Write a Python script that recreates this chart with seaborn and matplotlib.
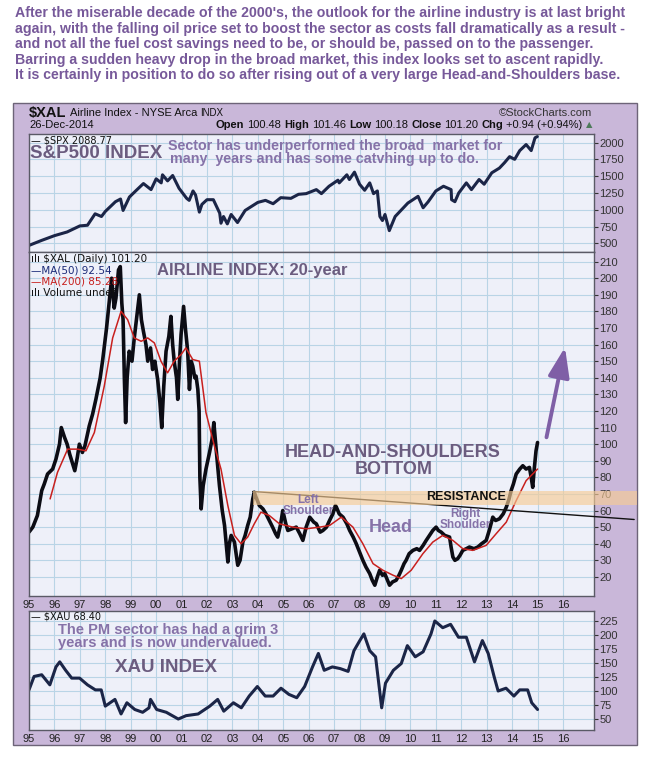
'''
Airline index ($XAL) 20-year chart with the S&P500 on top
and the XAU gold and silver index below, StockCharts style.
'''
# import libraries
import matplotlib
matplotlib.use('Agg')
import matplotlib.pyplot as plt
from matplotlib.patches import Rectangle, FancyArrowPatch
import seaborn as sns

# figure size in pixels
W, H = 649, 757

# S&P500 daily close
SPX_YEAR = [1995.0, 1995.5, 1996.0, 1996.5, 1997.0, 1997.3, 1997.6, 1997.85,
            1998.0, 1998.4, 1998.6, 1998.7, 1998.95, 1999.25, 1999.5, 1999.8,
            2000.0, 2000.2, 2000.25, 2000.45, 2000.65, 2000.9, 2001.2, 2001.3,
            2001.45, 2001.55, 2001.7, 2001.8, 2002.0, 2002.25, 2002.5, 2002.55,
            2002.65, 2002.8, 2002.95, 2003.2, 2003.5, 2004.0, 2004.3, 2004.6,
            2004.9, 2005.3, 2005.6, 2005.9, 2006.3, 2006.5, 2006.8, 2007.15,
            2007.2, 2007.5, 2007.6, 2007.8, 2008.0, 2008.2, 2008.4, 2008.55,
            2008.7, 2008.8, 2008.9, 2009.0, 2009.17, 2009.4, 2009.6, 2009.9,
            2010.3, 2010.5, 2010.7, 2011.0, 2011.3, 2011.6, 2011.62, 2011.75,
            2011.9, 2012.2, 2012.4, 2012.7, 2012.9, 2013.2, 2013.5, 2013.7,
            2013.9, 2014.1, 2014.3, 2014.55, 2014.75, 2014.9, 2014.99]
SPX_VALUE = [470, 545, 615, 670, 760, 770, 940, 900,
             975, 1120, 1160, 990, 1190, 1300, 1390, 1300,
             1460, 1400, 1520, 1430, 1510, 1320, 1170, 1140,
             1280, 1220, 965, 1080, 1150, 1150, 950, 800,
             900, 790, 930, 810, 990, 1110, 1140, 1090,
             1180, 1170, 1230, 1240, 1300, 1240, 1350, 1440,
             1400, 1520, 1450, 1560, 1380, 1290, 1400, 1240,
             1280, 900, 840, 930, 690, 900, 980, 1100,
             1200, 1030, 1120, 1280, 1350, 1300, 1150, 1120,
             1250, 1400, 1300, 1450, 1380, 1550, 1620, 1700,
             1790, 1750, 1880, 1970, 1880, 2070, 2089]

# $XAL daily close
XAL_YEAR = [1995.0, 1995.15, 1995.33, 1995.5, 1995.6, 1995.73, 1995.93, 1996.06,
            1996.2, 1996.27, 1996.4, 1996.5, 1996.6, 1996.72, 1996.8, 1996.9,
            1996.98, 1997.1, 1997.2, 1997.37, 1997.5, 1997.63, 1997.8, 1997.9,
            1998.05, 1998.15, 1998.25, 1998.35, 1998.42, 1998.52, 1998.59, 1998.65,
            1998.7, 1998.75, 1998.8, 1998.86, 1998.94, 1999.05, 1999.14, 1999.25,
            1999.34, 1999.42, 1999.5, 1999.6, 1999.67, 1999.78, 1999.86, 1999.95,
            2000.06, 2000.15, 2000.22, 2000.3, 2000.39, 2000.5, 2000.58, 2000.65,
            2000.71, 2000.8, 2000.85, 2000.92, 2000.98, 2001.08, 2001.15, 2001.24,
            2001.31, 2001.38, 2001.44, 2001.52, 2001.57, 2001.64, 2001.69, 2001.72,
            2001.77, 2001.85, 2001.96, 2002.1, 2002.2, 2002.27, 2002.36, 2002.49,
            2002.6, 2002.69, 2002.82, 2002.88, 2002.95, 2003.08, 2003.21, 2003.3,
            2003.41, 2003.5, 2003.6, 2003.7, 2003.8, 2003.86, 2003.93, 2004.06,
            2004.2, 2004.32, 2004.45, 2004.58, 2004.7, 2004.78, 2004.9, 2004.98,
            2005.1, 2005.18, 2005.35, 2005.51, 2005.65, 2005.77, 2005.9, 2006.04,
            2006.2, 2006.3, 2006.45, 2006.56, 2006.7, 2006.82, 2006.95, 2007.05,
            2007.09, 2007.2, 2007.35, 2007.5, 2007.61, 2007.75, 2007.87, 2008.0,
            2008.13, 2008.25, 2008.4, 2008.5, 2008.6, 2008.7, 2008.79, 2008.9,
            2008.99, 2009.1, 2009.18, 2009.3, 2009.44, 2009.55, 2009.64, 2009.75,
            2009.83, 2009.95, 2010.1, 2010.25, 2010.36, 2010.5, 2010.62, 2010.75,
            2010.88, 2011.01, 2011.1, 2011.21, 2011.35, 2011.54, 2011.6, 2011.67,
            2011.75, 2011.86, 2011.95, 2012.06, 2012.2, 2012.32, 2012.5, 2012.65,
            2012.8, 2012.98, 2013.1, 2013.24, 2013.35, 2013.5, 2013.65, 2013.77,
            2013.88, 2013.96, 2014.05, 2014.16, 2014.3, 2014.42, 2014.55, 2014.68,
            2014.75, 2014.81, 2014.87, 2014.94, 2015.0]
XAL_VALUE = [47, 50, 57, 72, 76, 82, 85, 91,
             100, 110, 104, 100, 94, 88, 84, 92,
             100, 95, 99, 111, 118, 127, 140, 151,
             170, 185, 200, 182, 188, 205, 207, 185,
             175, 140, 113, 140, 156, 150, 164, 178,
             190, 175, 168, 160, 150, 158, 145, 150,
             139, 125, 110, 135, 156, 165, 177, 160,
             150, 140, 127, 150, 166, 183, 170, 156,
             133, 150, 147, 140, 141, 133, 120, 80,
             61, 75, 85, 95, 103, 113, 97, 75,
             60, 51, 29, 40, 45, 41, 27, 30,
             41, 45, 51, 56, 67, 71, 68, 63,
             61, 58, 54, 50, 46, 44, 52, 60,
             52, 48, 49, 50, 46, 42, 50, 56,
             53, 52, 47, 48, 50, 54, 58, 63,
             62, 58, 56, 52, 48, 44, 40, 35,
             30, 26, 22, 18, 15, 20, 24, 21,
             22, 18, 15, 17, 18, 21, 24, 28,
             30, 34, 36, 37, 36, 39, 42, 45,
             48, 50, 48, 47, 45, 44, 38, 32,
             30, 31, 33, 36, 37, 38, 37, 38,
             40, 42, 48, 56, 54, 55, 58, 62,
             67, 72, 76, 82, 85, 87, 85, 86,
             80, 74, 85, 96, 101]

# $XAL 200-day moving average (red line)
MA200_YEAR = [1995.83, 1996.12, 1996.52, 1996.9, 1997.24, 1997.57, 1997.96,
              1998.29, 1998.62, 1998.88, 1999.14, 1999.41, 1999.67, 1999.93,
              2000.19, 2000.45, 2000.71, 2000.98, 2001.17, 2001.44, 2001.7,
              2001.96, 2002.29, 2002.55, 2002.82, 2003.08, 2003.34, 2003.6,
              2003.86, 2004.12, 2004.45, 2004.85, 2005.38, 2005.9, 2006.43,
              2006.82, 2007.28, 2007.74, 2008.13, 2008.53, 2008.92, 2009.32,
              2009.64, 2010.03, 2010.49, 2010.88, 2011.27, 2011.67, 2012.06,
              2012.45, 2012.98, 2013.37, 2013.77, 2014.16, 2014.55, 2015.0]
MA200_VALUE = [67, 83, 97, 97, 96, 107, 135,
               164, 180, 175, 164, 162, 164, 161,
               150, 143, 150, 154, 158, 151, 150,
               119, 99, 85, 63, 45, 40, 44,
               52, 59, 57, 52, 50, 49, 50,
               51, 56, 50, 40, 28, 24, 21,
               19, 24, 34, 41, 45, 42, 37,
               36, 39, 46, 53, 66, 78, 85]

# $XAU daily close
XAU_YEAR = [1995.0, 1995.2, 1995.5, 1995.82, 1996.06, 1996.21, 1996.44, 1996.68,
            1996.99, 1997.3, 1997.61, 1997.84, 1998.0, 1998.38, 1998.62, 1998.85,
            1999.16, 1999.47, 1999.72, 1999.78, 2000.02, 2000.4, 2000.87, 2001.18,
            2001.65, 2002.11, 2002.42, 2002.66, 2003.04, 2003.35, 2003.66, 2003.98,
            2004.29, 2004.6, 2004.91, 2005.22, 2005.53, 2005.84, 2006.15, 2006.38,
            2006.61, 2006.93, 2007.24, 2007.55, 2007.78, 2008.01, 2008.17, 2008.4,
            2008.63, 2008.87, 2009.02, 2009.33, 2009.64, 2009.88, 2010.19, 2010.5,
            2010.81, 2010.96, 2011.27, 2011.58, 2011.89, 2012.2, 2012.52, 2012.83,
            2013.06, 2013.29, 2013.45, 2013.76, 2014.07, 2014.3, 2014.61, 2014.77,
            2015.0]
XAU_VALUE = [102, 126, 129, 111, 143, 152, 137, 123,
             123, 111, 102, 102, 73, 85, 59, 79,
             67, 62, 70, 85, 67, 62, 50, 56,
             59, 73, 85, 64, 79, 70, 91, 108,
             91, 91, 105, 94, 88, 108, 143, 167,
             137, 143, 140, 135, 172, 190, 202, 172,
             161, 70, 114, 137, 149, 181, 161, 170,
             202, 225, 213, 219, 196, 196, 152, 190,
             167, 126, 100, 105, 91, 102, 102, 79,
             67]

# axis ticks and labels
YEAR_TICKS = [1995, 1996, 1997, 1998, 1999, 2000, 2001, 2002, 2003, 2004, 2005,
              2006, 2007, 2008, 2009, 2010, 2011, 2012, 2013, 2014, 2015, 2016]
YEAR_LABELS = ['95', '96', '97', '98', '99', '00', '01', '02', '03', '04', '05',
               '06', '07', '08', '09', '10', '11', '12', '13', '14', '15', '16']
SPX_TICKS = [500, 750, 1000, 1250, 1500, 1750, 2000]
XAL_TICKS = [20, 30, 40, 50, 60, 70, 80, 90, 100, 110, 120, 130, 140, 150,
             160, 170, 180, 190, 200, 210]
XAU_TICKS = [50, 75, 100, 125, 150, 175, 200, 225]

# head-and-shoulders markup
RESISTANCE_LOW, RESISTANCE_HIGH = 63.3, 71.7
NECKLINE_YEAR = [2003.8, 2018.8]
NECKLINE_VALUE = [71.5, 54.6]
ARROW_START = (2015.33, 102.5)
ARROW_END = (2016.1, 160)

# colours
FRAME_BG = '#c9b7d9'
PLOT_BG = '#eef0f9'
GRID = '#b9d4e6'
NAVY = '#1b2547'
RED = '#c8201e'
HEAD_PURPLE = '#77599a'
NOTE_PURPLE = '#8672a8'
TITLE_GREY = '#6b5c7f'

HEADER_LINES = [
    "After the miserable decade of the 2000's, the outlook for the airline industry is at last bright",
    "again, with the falling oil price set to boost the sector as costs fall dramatically as a result -",
    "and not all the fuel cost savings need to be, or should be, passed on to the passenger.",
    "Barring a sudden heavy drop in the broad market, this index looks set to ascent rapidly.",
    "It is certainly in position to do so after rising out of a very large Head-and-Shoulders base.",
]


def fig_text(fig, x, y, s, **kwargs):
    '''
    Place text on the figure using pixel coordinates measured from the top left
    '''
    return fig.text(x / W, 1 - y / H, s, **kwargs)


def panel(fig, top, bottom):
    '''
    Add a chart panel between two pixel rows and style it like StockCharts
    '''
    left, right = 29, 594
    ax = fig.add_axes([left / W, 1 - bottom / H, (right - left) / W,
                       (bottom - top) / H])
    ax.set_facecolor(PLOT_BG)
    ax.set_xlim(1995.0, 2017.22)
    ax.set_xticks(YEAR_TICKS)
    ax.grid(True, color=GRID, linewidth=0.8)
    ax.set_axisbelow(True)
    ax.yaxis.tick_right()
    ax.tick_params(axis='y', direction='out', length=3, width=0.8,
                   colors='#333333', labelsize=8, pad=1)
    ax.tick_params(axis='x', length=0, labelsize=8, colors='#222222', pad=3)
    for spine in ax.spines.values():
        spine.set_color('#5a5a66')
        spine.set_linewidth(1)
    return ax


def draw_segments(fig, segments, x, y, align='left'):
    '''
    Draw a row of text pieces with different weights one after the other
    '''
    renderer = fig.canvas.get_renderer()
    items = []
    total = 0
    for text, kwargs in segments:
        item = fig_text(fig, 0, y, text, va='center', **kwargs)
        width = item.get_window_extent(renderer).width
        items.append((item, width))
        total += width + 3
    total -= 3
    cursor = x - total if align == 'right' else x
    for item, width in items:
        item.set_x(cursor / W)
        cursor += width + 3


def draw_chart():
    '''
    Build the three-panel chart and save it as out.png
    '''
    sns.set_style('white')
    plt.rcParams['font.family'] = ['Liberation Sans', 'DejaVu Sans']

    fig = plt.figure(figsize=(W / 100, H / 100), dpi=100)
    fig.patch.set_facecolor('white')

    # lavender chart frame
    frame = Rectangle((13 / W, 1 - 745 / H), 624 / W, 642 / H,
                      transform=fig.transFigure, facecolor=FRAME_BG,
                      edgecolor='#6d6478', linewidth=1, zorder=-1)
    fig.add_artist(frame)

    # commentary above the chart
    for i, line in enumerate(HEADER_LINES):
        fig_text(fig, 15, 13 + i * 15.6, line, fontsize=10.2, weight='bold',
                 color=HEAD_PURPLE, va='center')

    # chart title rows
    draw_segments(fig, [('$XAL', dict(fontsize=10.5, weight='bold', color='#111111')),
                        ('Airline Index - NYSE Arca', dict(fontsize=8, color='#111111')),
                        ('INDX', dict(fontsize=7, color='#111111'))],
                  29, 113)
    fig_text(fig, 592, 113, '\u00a9StockCharts.com', fontsize=8, color='#333333',
             ha='right', va='center')
    fig_text(fig, 29, 125, '26-Dec-2014', fontsize=8, color='#111111', va='center')
    bold = dict(fontsize=8, weight='bold', color='#111111')
    plain = dict(fontsize=8, color='#111111')
    draw_segments(fig, [('Open', bold), ('100.48', plain), ('High', bold),
                        ('101.46', plain), ('Low', bold), ('100.18', plain),
                        ('Close', bold), ('101.20', plain), ('Chg', bold),
                        ('+0.94 (+0.94%)', plain),
                        ('\u25b2', dict(fontsize=6, color='#4d7a5a',
                                        family='DejaVu Sans'))],
                  592, 125, align='right')

    # S&P500 panel
    ax_spx = panel(fig, 134, 252)
    sns.lineplot(x=SPX_YEAR, y=SPX_VALUE, ax=ax_spx, color=NAVY, linewidth=2.2)
    ax_spx.set_ylim(372, 2127)
    ax_spx.set_yticks(SPX_TICKS)
    ax_spx.set_xticklabels([])
    ax_spx.text(0.004, 0.99, '\u2014 $SPX 2088.77', transform=ax_spx.transAxes,
                fontsize=7, color='#111111', va='top', family='DejaVu Sans')

    # airline index panel
    ax_xal = panel(fig, 252, 596)
    sns.lineplot(x=XAL_YEAR, y=XAL_VALUE, ax=ax_xal, color='#0c0c14',
                 linewidth=2.6)
    sns.lineplot(x=MA200_YEAR, y=MA200_VALUE, ax=ax_xal, color=RED,
                 linewidth=1.1)
    ax_xal.set_ylim(8.5, 215.8)
    ax_xal.set_yticks(XAL_TICKS)
    ax_xal.set_xticklabels(YEAR_LABELS)

    # neckline and resistance band
    ax_xal.plot(NECKLINE_YEAR, NECKLINE_VALUE, color='#111111', linewidth=1,
                clip_on=False, zorder=4)
    band = Rectangle((2003.8, RESISTANCE_LOW), 2018.9 - 2003.8,
                     RESISTANCE_HIGH - RESISTANCE_LOW, facecolor='#f7cc95',
                     alpha=0.65, edgecolor='none', clip_on=False, zorder=5)
    ax_xal.add_patch(band)
    arrow = FancyArrowPatch(ARROW_START, ARROW_END,
                            arrowstyle='-|>,head_length=1.0,head_width=0.36',
                            mutation_scale=18, color='#7f5fa6', linewidth=2.8,
                            zorder=6)
    ax_xal.add_patch(arrow)

    # panel legend
    legend_rows = [('\u0131l\u0131 $XAL (Daily) 101.20', '#111111'),
                   ('\u2014MA(50) 92.54', '#1b2a78'),
                   ('\u2014MA(200) 85.28', RED),
                   ('\u0131l\u0131 Volume undef', '#111111')]
    for i, (label, colour) in enumerate(legend_rows):
        ax_xal.text(0.004, 0.994 - i * 0.033, label, transform=ax_xal.transAxes,
                    fontsize=7.5, color=colour, va='top', family='DejaVu Sans')

    # bottom XAU panel
    ax_xau = panel(fig, 611, 730)
    sns.lineplot(x=XAU_YEAR, y=XAU_VALUE, ax=ax_xau, color=NAVY, linewidth=2.2)
    ax_xau.set_ylim(30.4, 242.8)
    ax_xau.set_yticks(XAU_TICKS)
    ax_xau.set_xticklabels(YEAR_LABELS)
    ax_xau.text(0.004, 0.996, '\u2014 $XAU 68.40', transform=ax_xau.transAxes,
                fontsize=7, color='#111111', va='top', family='DejaVu Sans')

    # annotations
    fig_text(fig, 30, 153, 'S&P500 INDEX', fontsize=13.5, weight='bold',
             color=TITLE_GREY, va='center')
    fig_text(fig, 168, 146, 'Sector has underperformed the broad  market for',
             fontsize=10.3, weight='bold', color=NOTE_PURPLE, va='center')
    fig_text(fig, 170, 158.5, 'many  years and has some catvhing up to do.',
             fontsize=10.3, weight='bold', color=NOTE_PURPLE, va='center')
    fig_text(fig, 157, 270, 'AIRLINE INDEX: 20-year', fontsize=12, weight='bold',
             color=TITLE_GREY, va='center')
    fig_text(fig, 393, 452.5, 'HEAD-AND-SHOULDERS', fontsize=13, weight='bold',
             color=TITLE_GREY, ha='center', va='center')
    fig_text(fig, 393.5, 470, 'BOTTOM', fontsize=13, weight='bold',
             color=TITLE_GREY, ha='center', va='center')
    fig_text(fig, 466, 497.5, 'RESISTANCE', fontsize=9, weight='bold',
             color='#111111', ha='center', va='center', zorder=10)
    fig_text(fig, 308, 500, 'Left', fontsize=8.5, weight='bold',
             color=NOTE_PURPLE, ha='center', va='center')
    fig_text(fig, 308, 511.5, 'Shoulder', fontsize=8.5, weight='bold',
             color=NOTE_PURPLE, ha='center', va='center')
    fig_text(fig, 391, 527, 'Head', fontsize=13, weight='bold',
             color=NOTE_PURPLE, ha='center', va='center')
    fig_text(fig, 465, 514, 'Right', fontsize=8.5, weight='bold',
             color=NOTE_PURPLE, ha='center', va='center')
    fig_text(fig, 465, 524.5, 'Shoulder', fontsize=8.5, weight='bold',
             color=NOTE_PURPLE, ha='center', va='center')
    fig_text(fig, 58, 630, 'The PM sector has had a grim 3', fontsize=10.5,
             weight='bold', color=NOTE_PURPLE, va='center')
    fig_text(fig, 58, 643, 'years and is now undervalued.', fontsize=10.5,
             weight='bold', color=NOTE_PURPLE, va='center')
    fig_text(fig, 115, 667, 'XAU INDEX', fontsize=13.5, weight='bold',
             color=TITLE_GREY, va='center')

    fig.savefig('out.png', dpi=100, facecolor='white')
    plt.close(fig)


if __name__ == '__main__':
    draw_chart()
